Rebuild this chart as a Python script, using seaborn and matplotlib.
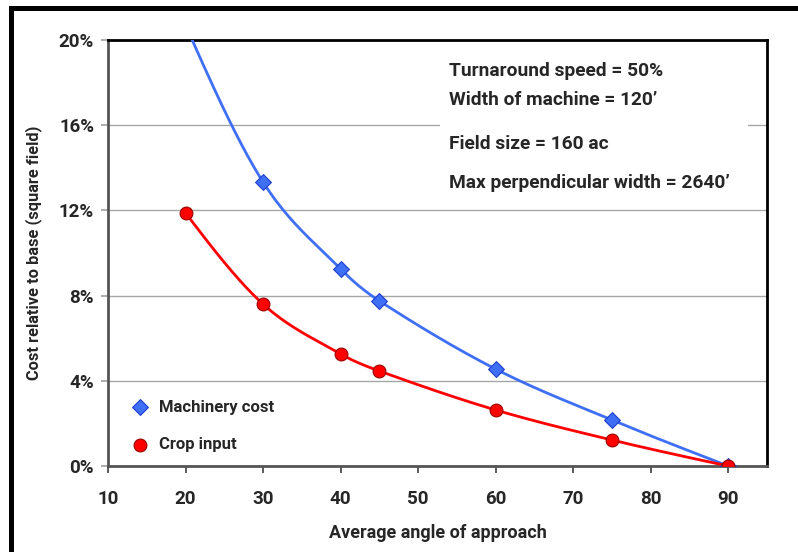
import numpy as np
import pandas as pd
import seaborn as sns
import matplotlib.pyplot as plt
from matplotlib.patches import Rectangle
from matplotlib.lines import Line2D

# data (cost in %)
machinery_angle = [20, 30, 40, 45, 60, 75, 90]
machinery_cost = [20.7, 13.33, 9.25, 7.75, 4.55, 2.16, 0.0]
crop_angle = [20, 30, 40, 45, 60, 75, 90]
crop_cost = [11.88, 7.6, 5.26, 4.46, 2.63, 1.22, 0.0]

x_ticks = [10, 20, 30, 40, 50, 60, 70, 80, 90]
y_ticks = [0, 4, 8, 12, 16, 20]
notes = ["Turnaround speed = 50%",
         "Width of machine = 120\u2019",
         "Field size = 160 ac",
         "Max perpendicular width = 2640\u2019"]

BLUE = "#3f6ff5"
RED = "#ff0000"
FONT = "Roboto"


def smooth(xs, ys, n=40):
    """Smoothed line through the points (cubic Hermite in x, like Excel's smoothing)."""
    x = np.asarray(xs, float)
    y = np.asarray(ys, float)
    m = np.empty_like(y)
    m[1:-1] = (y[2:] - y[:-2]) / (x[2:] - x[:-2])
    m[0] = 1.5 * (y[1] - y[0]) / (x[1] - x[0]) - 0.5 * m[1]
    m[-1] = 1.5 * (y[-1] - y[-2]) / (x[-1] - x[-2]) - 0.5 * m[-2]
    px, py = [], []
    for i in range(len(x) - 1):
        h = x[i + 1] - x[i]
        t = np.linspace(0, 1, n)
        h00 = 2 * t ** 3 - 3 * t ** 2 + 1
        h10 = t ** 3 - 2 * t ** 2 + t
        h01 = -2 * t ** 3 + 3 * t ** 2
        h11 = t ** 3 - t ** 2
        seg = h00 * y[i] + h10 * h * m[i] + h01 * y[i + 1] + h11 * h * m[i + 1]
        start = 0 if i == 0 else 1
        px.extend((x[i] + t * h)[start:])
        py.extend(seg[start:])
    return np.array(px), np.array(py)


sns.set_theme(style="white")
plt.rcParams['font.family'] = [FONT, 'DejaVu Sans']
plt.rcParams['font.weight'] = 'bold'

fig = plt.figure(figsize=(7.98, 5.52), dpi=100)
ax = fig.add_axes([108 / 798, 1 - 466 / 552, (767 - 108) / 798, (466 - 40) / 552])

# outer frame of the original picture (cut at right and bottom)
fig.add_artist(Line2D([10.5 / 798, 10.5 / 798], [0, 1 - 8 / 552], transform=fig.transFigure,
                      color="black", lw=3.6))
fig.add_artist(Line2D([10.5 / 798, 1.0], [1 - 8 / 552, 1 - 8 / 552], transform=fig.transFigure,
                      color="black", lw=3.6, solid_capstyle="projecting"))

# smoothed lines
mx, my = smooth(machinery_angle, machinery_cost)
cx, cy = smooth(crop_angle, crop_cost)
curves = pd.concat([
    pd.DataFrame({"angle": mx, "cost": my, "series": "Machinery cost"}),
    pd.DataFrame({"angle": cx, "cost": cy, "series": "Crop input"}),
])
sns.lineplot(data=curves, x="angle", y="cost", hue="series", sort=False,
             palette={"Machinery cost": BLUE, "Crop input": RED},
             linewidth=2.0, legend=False, ax=ax, zorder=3)

# markers
sns.scatterplot(x=machinery_angle, y=machinery_cost, marker="D", s=65, color=BLUE,
                edgecolor="#1f3fd0", linewidth=0.8, ax=ax, zorder=4, label="Machinery cost")
sns.scatterplot(x=crop_angle, y=crop_cost, marker="o", s=85, color=RED,
                edgecolor="#9a0000", linewidth=0.8, ax=ax, zorder=5, label="Crop input")

ax.set_xlim(10, 95)
ax.set_ylim(0, 20)
ax.set_xticks(x_ticks)
ax.set_yticks(y_ticks)
ax.set_yticklabels([f"{v}%" for v in y_ticks])
ax.tick_params(axis="both", labelsize=13.5, length=5, width=1.2, color="#a0a0a0",
               direction="out", left=True, bottom=True, pad=5)
ax.tick_params(axis="x", pad=12, color="#404040")
for lab in ax.get_xticklabels() + ax.get_yticklabels():
    lab.set_fontweight("bold")

ax.yaxis.grid(True, color="#a6a6a6", linewidth=1.0)
ax.xaxis.grid(False)
ax.set_axisbelow(True)

for side in ["top", "right"]:
    ax.spines[side].set_color("black")
    ax.spines[side].set_linewidth(2.0)
ax.spines["left"].set_color("#555555")
ax.spines["left"].set_linewidth(2.0)
ax.spines["bottom"].set_color("#555555")
ax.spines["bottom"].set_linewidth(2.0)

ax.set_xlabel("Average angle of approach", fontsize=13, fontweight="bold", labelpad=12)
ax.set_ylabel("Cost relative to base (square field)", fontsize=11.8, fontweight="bold", labelpad=12)

# white box behind the annotation (it hides the grid line)
ax.add_patch(Rectangle(((440 - 108) / 659, (466 - 200) / 426), (748 - 440) / 659, 150 / 426,
                       transform=ax.transAxes, facecolor="white", edgecolor="none", zorder=1.5))
note_y = [71, 100, 144, 183]
for txt, py in zip(notes, note_y):
    ax.text((449 - 108) / 659, (466 - py) / 426, txt, transform=ax.transAxes,
            fontsize=13.8, fontweight="bold", va="center", ha="left", zorder=6)

leg = ax.legend(loc="center left", bbox_to_anchor=(0.01, (466 - 426) / 426), frameon=False,
                labelspacing=1.35, handletextpad=0.15, borderpad=0, markerscale=1.0,
                prop={"weight": "bold", "size": 12})

fig.savefig("out.png", dpi=100)
